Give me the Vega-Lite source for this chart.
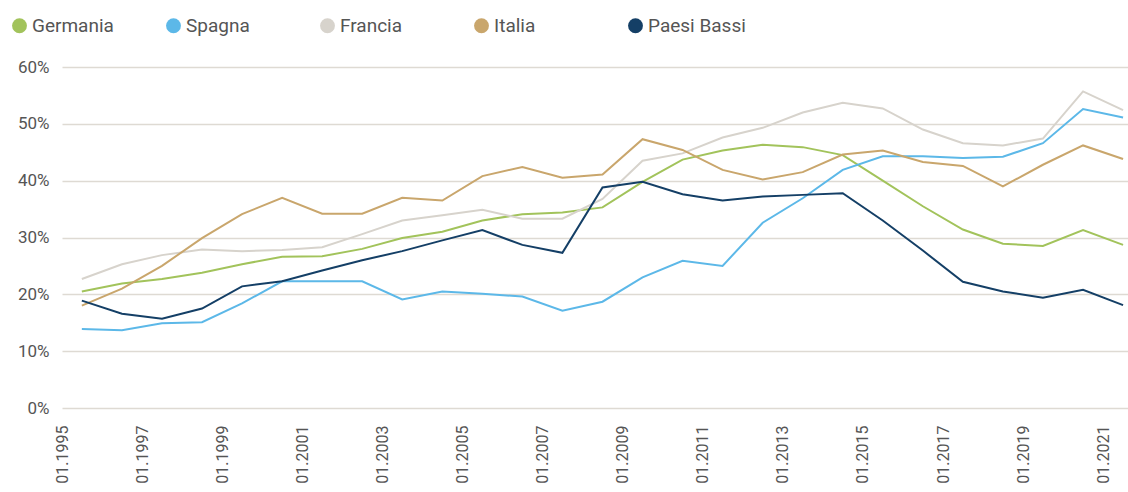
{
  "$schema": "https://vega.github.io/schema/vega-lite/v6.json",
  "width": 1066,
  "height": 341,
  "autosize": {"type": "none"},
  "padding": {"left": 62, "top": 67, "right": 0, "bottom": 84},
  "background": "white",
  "config": {
    "font": "Roboto",
    "view": {"stroke": null}
  },
  "datasets": {
    "raw": [
      {"anno": "1995-07-01", "Germania": 20.5, "Spagna": 13.9, "Francia": 22.7, "Italia": 18.0, "Paesi Bassi": 18.9},
      {"anno": "1996-07-01", "Germania": 21.9, "Spagna": 13.7, "Francia": 25.3, "Italia": 21.0, "Paesi Bassi": 16.6},
      {"anno": "1997-07-01", "Germania": 22.7, "Spagna": 14.9, "Francia": 26.9, "Italia": 25.0, "Paesi Bassi": 15.7},
      {"anno": "1998-07-01", "Germania": 23.8, "Spagna": 15.1, "Francia": 27.9, "Italia": 29.9, "Paesi Bassi": 17.5},
      {"anno": "1999-07-01", "Germania": 25.3, "Spagna": 18.4, "Francia": 27.6, "Italia": 34.1, "Paesi Bassi": 21.4},
      {"anno": "2000-07-01", "Germania": 26.6, "Spagna": 22.3, "Francia": 27.8, "Italia": 37.0, "Paesi Bassi": 22.3},
      {"anno": "2001-07-01", "Germania": 26.7, "Spagna": 22.3, "Francia": 28.3, "Italia": 34.2, "Paesi Bassi": 24.2},
      {"anno": "2002-07-01", "Germania": 28.0, "Spagna": 22.3, "Francia": 30.6, "Italia": 34.2, "Paesi Bassi": 26.0},
      {"anno": "2003-07-01", "Germania": 29.9, "Spagna": 19.1, "Francia": 33.0, "Italia": 37.0, "Paesi Bassi": 27.6},
      {"anno": "2004-07-01", "Germania": 31.0, "Spagna": 20.5, "Francia": 33.9, "Italia": 36.5, "Paesi Bassi": 29.5},
      {"anno": "2005-07-01", "Germania": 33.0, "Spagna": 20.1, "Francia": 34.9, "Italia": 40.8, "Paesi Bassi": 31.3},
      {"anno": "2006-07-01", "Germania": 34.1, "Spagna": 19.6, "Francia": 33.3, "Italia": 42.4, "Paesi Bassi": 28.7},
      {"anno": "2007-07-01", "Germania": 34.4, "Spagna": 17.1, "Francia": 33.3, "Italia": 40.5, "Paesi Bassi": 27.3},
      {"anno": "2008-07-01", "Germania": 35.3, "Spagna": 18.7, "Francia": 36.8, "Italia": 41.1, "Paesi Bassi": 38.8},
      {"anno": "2009-07-01", "Germania": 39.8, "Spagna": 23.0, "Francia": 43.5, "Italia": 47.3, "Paesi Bassi": 39.8},
      {"anno": "2010-07-01", "Germania": 43.7, "Spagna": 25.9, "Francia": 44.8, "Italia": 45.4, "Paesi Bassi": 37.6},
      {"anno": "2011-07-01", "Germania": 45.3, "Spagna": 25.0, "Francia": 47.6, "Italia": 41.9, "Paesi Bassi": 36.5},
      {"anno": "2012-07-01", "Germania": 46.3, "Spagna": 32.6, "Francia": 49.3, "Italia": 40.2, "Paesi Bassi": 37.2},
      {"anno": "2013-07-01", "Germania": 45.9, "Spagna": 36.9, "Francia": 52.0, "Italia": 41.5, "Paesi Bassi": 37.5},
      {"anno": "2014-07-01", "Germania": 44.5, "Spagna": 41.9, "Francia": 53.7, "Italia": 44.6, "Paesi Bassi": 37.8},
      {"anno": "2015-07-01", "Germania": 40.0, "Spagna": 44.3, "Francia": 52.7, "Italia": 45.3, "Paesi Bassi": 33.0},
      {"anno": "2016-07-01", "Germania": 35.5, "Spagna": 44.3, "Francia": 49.0, "Italia": 43.3, "Paesi Bassi": 27.7},
      {"anno": "2017-07-01", "Germania": 31.4, "Spagna": 44.0, "Francia": 46.6, "Italia": 42.6, "Paesi Bassi": 22.2},
      {"anno": "2018-07-01", "Germania": 28.9, "Spagna": 44.2, "Francia": 46.2, "Italia": 39.0, "Paesi Bassi": 20.5},
      {"anno": "2019-07-01", "Germania": 28.5, "Spagna": 46.6, "Francia": 47.4, "Italia": 42.8, "Paesi Bassi": 19.4},
      {"anno": "2020-07-01", "Germania": 31.3, "Spagna": 52.6, "Francia": 55.7, "Italia": 46.2, "Paesi Bassi": 20.8},
      {"anno": "2021-07-01", "Germania": 28.7, "Spagna": 51.1, "Francia": 52.4, "Italia": 43.8, "Paesi Bassi": 18.1}
    ]
  },
  "data": {"name": "raw"},
  "transform": [
    {"fold": ["Germania", "Spagna", "Francia", "Italia", "Paesi Bassi"], "as": ["paese", "valore"]}
  ],
  "mark": {"type": "line", "strokeWidth": 2, "interpolate": "linear"},
  "encoding": {
    "x": {
      "field": "anno",
      "type": "temporal",
      "scale": {"domain": ["1995-01-01", "2021-08-15"]},
      "axis": {
        "title": null,
        "values": ["1995-01-01", "1997-01-01", "1999-01-01", "2001-01-01", "2003-01-01", "2005-01-01", "2007-01-01", "2009-01-01", "2011-01-01", "2013-01-01", "2015-01-01", "2017-01-01", "2019-01-01", "2021-01-01"],
        "format": "%m.%Y",
        "labelAngle": -90,
        "labelFontSize": 16,
        "labelColor": "#555555",
        "labelPadding": 17,
        "domain": false,
        "ticks": false,
        "grid": false,
        "labelOverlap": false
      }
    },
    "y": {
      "field": "valore",
      "type": "quantitative",
      "scale": {"domain": [0, 60], "nice": false},
      "axis": {
        "title": null,
        "values": [0, 10, 20, 30, 40, 50, 60],
        "labelExpr": "datum.value + '%'",
        "labelFontSize": 17,
        "labelColor": "#555555",
        "labelPadding": 13,
        "domain": false,
        "ticks": false,
        "grid": true,
        "gridColor": "#dedad3",
        "gridWidth": 1.3
      }
    },
    "color": {
      "field": "paese",
      "type": "nominal",
      "sort": ["Germania", "Spagna", "Francia", "Italia", "Paesi Bassi"],
      "scale": {
        "domain": ["Germania", "Spagna", "Francia", "Italia", "Paesi Bassi"],
        "range": ["#a2c35b", "#5cb8e8", "#d7d3cc", "#c9a66c", "#143f66"]
      },
      "legend": {
        "title": null,
        "orient": "none",
        "direction": "horizontal",
        "legendX": -52,
        "legendY": -51,
        "symbolType": "circle",
        "symbolSize": 220,
        "symbolFillOpacity": 1,
        "symbolStrokeWidth": 0,
        "labelFontSize": 19,
        "labelColor": "#555555",
        "labelOffset": 3,
        "gridAlign": "all",
        "columnPadding": 34,
        "labelLimit": 200,
        "encode": {
          "symbols": {
            "update": {
              "fill": {"scale": "color", "field": "value"},
              "stroke": {"value": "transparent"}
            }
          }
        }
      }
    }
  }
}
